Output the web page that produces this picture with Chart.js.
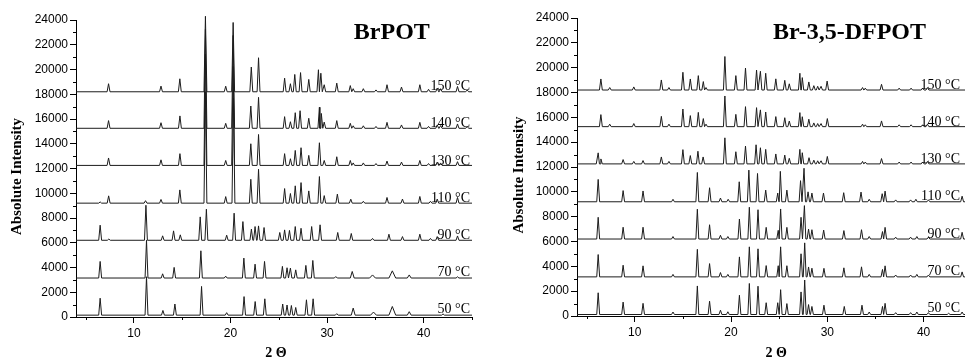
<!DOCTYPE html>
<html>
<head>
<meta charset="utf-8">
<script src="https://cdn.jsdelivr.net/npm/chart.js@4/dist/chart.umd.min.js"></script>
<style>
  body { margin: 0; background: #fff; overflow: hidden; }
  canvas { position: absolute; top: 0; }
  #left { left: 0; }
  #right { left: 482px; }
</style>
</head>
<body>
<canvas id="left" width="482" height="360"></canvas>
<canvas id="right" width="483" height="360"></canvas>
<script>
// temperatures, stacking offsets and the flat background of each pattern
const temps = ["50 °C", "70 °C", "90 °C", "110 °C", "130 °C", "140 °C", "150 °C"];
const offsets = [0, 3000, 6000, 9000, 12000, 15000, 18000];
const yTicks = [0, 2000, 4000, 6000, 8000, 10000, 12000, 14000, 16000, 18000, 20000, 22000, 24000];
const yMinor = [1000, 3000, 5000, 7000, 9000, 11000, 13000, 15000, 17000, 19000, 21000, 23000];
const xTicks = [10, 20, 30, 40];
const xMinor = [5, 15, 25, 35, 45];

// peaks: [2θ, height above background, optional half width]
const brBase = [150, 150, 200, 200, 250, 250, 200];
const br50 = [[6.5,1370],[11.3,3100],[13.0,380],[14.24,900],[17.0,2320],[19.6,200],[21.4,1500],[22.55,1100],[23.55,1320],[25.4,900],[25.85,820],[26.3,780],[26.75,620],[27.86,1240],[28.55,1320],[31.0,120],[32.7,570,0.2],[34.8,250,0.3],[36.75,700,0.35],[38.5,280,0.2],[42.0,100]];
const br70 = [[6.5,1340],[11.3,3050],[12.97,340],[14.16,860],[16.93,2200],[19.5,150],[21.38,1610],[22.54,1120],[23.52,1340],[25.37,940],[25.85,830],[26.2,800],[26.75,660],[27.8,1020],[28.52,1420],[30.9,120],[32.6,530,0.2],[34.7,250,0.3],[36.75,580,0.35],[38.5,250,0.2],[43.5,100]];
const br90 = [[6.5,1220],[7.4,100],[11.24,2830],[12.97,360],[14.1,760],[14.8,440],[16.86,1890],[17.5,2510],[19.6,410],[20.37,2190],[21.28,1510],[22.16,900],[22.54,1110],[22.9,1160],[23.47,1030],[25.1,630],[25.6,840],[26.1,800],[26.7,1110],[27.3,970],[28.4,1110],[29.27,1250],[31.1,630],[32.5,550],[34.7,150],[36.4,490],[37.8,300],[39.6,490],[40.7,150],[41.4,300],[43.5,350]];
const br110 = [[6.5,100],[7.38,590],[11.2,200],[12.8,300],[14.75,1070],[17.4,9000],[19.5,530],[20.3,8500],[22.1,1930],[22.9,2740],[25.6,1180],[26.2,780],[26.7,1400],[27.3,1660],[28.1,990],[29.2,2150],[29.7,610],[31.06,730],[32.45,320],[33.75,150],[36.2,460],[37.8,330],[39.6,540],[40.7,150],[41.4,330],[43.5,460]];
const br130 = [[7.37,600],[12.8,450],[14.76,950],[17.4,9000],[19.5,400],[20.27,8000],[22.1,1750],[22.9,2500],[25.6,950],[26.2,540],[26.7,1210],[27.3,1430],[28.1,810],[29.2,1830],[29.7,400],[31.0,700],[32.4,400],[32.7,200],[33.75,200],[35.06,150],[36.2,350],[37.7,270],[39.6,400],[40.5,150],[41.4,270],[41.75,200],[43.5,300]];
const br140 = [[7.37,620],[12.8,450],[14.76,1000],[17.4,8000],[19.5,400],[20.27,7500],[22.1,1800],[22.9,2500],[25.6,940],[26.2,530],[26.7,1260],[27.2,1420],[28.1,810],[29.2,1700],[29.4,1200],[29.7,500],[31.0,620],[32.4,400],[32.7,200],[33.75,200],[35.06,150],[36.2,480],[37.7,270],[39.6,480],[40.5,150],[41.4,270],[41.75,220],[43.5,350],[44.5,150]];
const br150 = [[7.37,650],[12.8,460],[14.75,1050],[17.4,6100],[19.5,450],[20.27,5600],[22.15,2000],[22.9,2750],[25.6,1100],[26.2,650],[26.65,1400],[27.25,1550],[28.1,1000],[29.1,1780],[29.35,1500],[29.7,570],[31.0,700],[32.4,500],[32.7,250],[33.75,250],[35.06,150],[36.2,570],[37.7,380],[39.6,570],[40.5,200],[41.4,300],[41.75,250],[43.5,430],[44.5,150]];

const dfBase = [120, 150, 200, 200, 250, 250, 200];
const df50 = [[6.2,1750],[8.79,1000],[10.86,900],[13.97,200],[16.5,2300],[17.77,1070],[18.9,350],[19.67,220],[20.87,1550],[21.9,2500],[22.8,2280],[23.65,950],[24.85,950],[25.15,2000],[25.8,880],[27.27,1820],[27.65,2780],[28.05,800],[28.4,650],[29.65,750],[31.76,650],[33.6,750],[34.35,200],[35.73,650],[36.0,900],[37.1,150],[38.65,150],[39.3,200],[40.5,150],[42.6,100],[44.0,200]];
const df70 = [[6.2,1800],[8.79,940],[10.86,890],[13.97,200],[16.5,2220],[17.77,1070],[18.9,350],[19.67,200],[20.87,1610],[21.9,2420],[22.8,2260],[23.65,910],[24.9,900],[25.15,2420],[25.8,900],[27.27,1860],[27.65,2740],[28.05,800],[28.4,700],[29.65,690],[31.72,730],[33.55,810],[34.35,200],[35.73,600],[36.0,890],[37.1,150],[38.65,150],[39.3,200],[40.5,150],[44.0,400]];
const df90 = [[6.2,1750],[8.79,950],[10.86,950],[13.97,200],[16.5,2400],[17.77,1150],[18.9,300],[19.67,200],[20.87,1610],[21.9,2560],[22.8,2360],[23.65,940],[24.9,700],[25.15,2420],[25.8,940],[27.27,1750],[27.62,2690],[28.05,800],[28.4,750],[29.62,720],[31.72,680],[33.55,750],[34.35,200],[35.73,600],[36.0,940],[37.1,150],[38.65,150],[39.3,200],[40.5,150],[44.0,540]];
const df110 = [[6.2,1800],[8.79,900],[10.86,870],[13.97,200],[16.5,2360],[17.77,1130],[18.9,300],[19.7,200],[20.85,1610],[21.85,2550],[22.75,2280],[23.6,940],[24.85,700],[25.12,2450],[25.8,940],[27.22,1700],[27.58,2700],[28.0,800],[28.4,700],[29.6,700],[31.7,730],[33.5,780],[34.35,200],[35.7,650],[36.0,860],[37.1,150],[38.65,150],[39.2,200],[40.5,150],[44.0,450]];
const df130 = [[6.2,890,0.2],[6.48,400],[8.79,350],[9.9,200],[10.86,270],[12.76,560],[13.55,200],[15.0,1150],[15.77,670],[16.56,1020],[17.1,560],[19.36,2100],[20.5,980],[21.5,1440],[22.6,1540],[23.05,1300],[23.6,1170],[24.65,800],[25.58,710],[26.05,450],[27.15,1170],[27.4,900],[28.1,500],[28.6,300],[29.0,250],[29.35,250],[30.0,600],[33.66,200],[33.94,150],[35.63,430],[37.46,150],[38.7,150],[39.9,150],[40.4,200]];
const df140 = [[6.48,970],[7.4,200],[9.9,250],[12.76,830],[13.55,200],[15.0,1420],[15.77,890],[16.6,1150],[17.12,650],[17.4,200],[19.36,2470],[20.5,990],[21.5,1610],[22.65,1530],[23.05,1350],[23.6,1180],[24.65,810],[25.58,720],[26.05,450],[27.15,1130],[27.4,800],[28.08,600],[28.6,300],[29.0,250],[29.35,250],[30.0,650],[33.66,200],[33.94,150],[35.63,460],[37.46,150],[38.7,150],[39.9,150],[40.4,200]];
const df150 = [[6.48,890],[7.4,200],[9.9,250],[12.76,810],[13.55,200],[15.0,1430],[15.77,890],[16.6,1160],[17.12,680],[17.4,200],[19.36,2700],[20.5,1160],[21.5,1770],[22.65,1610],[23.05,1510],[23.6,1350],[24.65,900],[25.58,780],[26.05,500],[27.15,1350],[27.4,1000],[28.08,650],[28.6,350],[29.0,300],[29.35,300],[29.98,720],[33.66,200],[33.94,150],[35.63,460],[37.46,150],[38.7,150],[39.9,150],[40.4,200]];

// turn a peak list into a trace: flat background with a narrow spike per peak
function trace(peaks, offset, base, xMin, xMax) {
  const y0 = offset + base;
  const pts = [{ x: xMin, y: y0 }];
  peaks.forEach(([p, h, w = 0.15]) => {
    pts.push({ x: p - w, y: y0 }, { x: p, y: y0 + h }, { x: p + w, y: y0 });
  });
  pts.push({ x: xMax, y: y0 });
  return pts.sort((a, b) => a.x - b.x);
}

const serif = '"Liberation Serif", "Times New Roman", serif';
const sans = '"Liberation Sans", Arial, sans-serif';

const decor = {
  id: 'decor',
  afterDraw(chart, args, o) {
    const { ctx, chartArea: a, scales: { x, y } } = chart;
    ctx.save();
    ctx.strokeStyle = '#000';
    ctx.lineWidth = 1;
    yMinor.forEach(v => {
      const py = Math.round(y.getPixelForValue(v)) + 0.5;
      ctx.beginPath(); ctx.moveTo(a.left - 3, py); ctx.lineTo(a.left, py); ctx.stroke();
    });
    xMinor.forEach(v => {
      if (v > x.max) return;
      const px = Math.round(x.getPixelForValue(v)) + 0.5;
      ctx.beginPath(); ctx.moveTo(px, a.bottom); ctx.lineTo(px, a.bottom + 3); ctx.stroke();
    });
    ctx.fillStyle = '#000';
    ctx.font = '14px ' + serif;
    ctx.textAlign = 'right';
    ctx.textBaseline = 'alphabetic';
    temps.forEach((t, i) => ctx.fillText(t, a.right - o.inset, y.getPixelForValue(offsets[i]) - 4));
    ctx.font = 'bold 24px ' + serif;
    ctx.textAlign = 'center';
    ctx.fillText(o.title, x.getPixelForValue(o.titleAt), 39);
    ctx.font = 'bold 14px ' + serif;
    ctx.textBaseline = 'middle';
    ctx.fillText('2 \u0398', x.getPixelForValue(24.7), 353);
    ctx.translate(o.yTitleX, (a.top + a.bottom) / 2 + 8);
    ctx.rotate(-Math.PI / 2);
    ctx.font = 'bold 15px ' + serif;
    ctx.fillText('Absolute Intensity', 0, 0);
    ctx.restore();
  }
};

function makeChart(id, p) {
  const datasets = p.series.map((s, i) => ({
    data: trace(s, offsets[i], p.base[i], 4, p.xMax),
    borderColor: '#1c1c1c',
    borderWidth: 1,
    pointRadius: 0,
    tension: 0,
    clip: false
  }));
  new Chart(document.getElementById(id), {
    type: 'line',
    data: { datasets },
    plugins: [decor],
    options: {
      responsive: false,
      animation: false,
      parsing: false,
      layout: { padding: { top: p.padTop, right: p.padRight, left: 0, bottom: 0 } },
      plugins: {
        legend: { display: false },
        tooltip: { enabled: false },
        decor: { title: p.title, titleAt: p.titleAt, inset: p.inset, yTitleX: p.yTitleX }
      },
      scales: {
        x: {
          type: 'linear', min: 4, max: p.xMax,
          afterBuildTicks: s => { s.ticks = xTicks.map(v => ({ value: v })); },
          afterFit: s => { s.height = p.xHeight; },
          grid: { drawOnChartArea: false, tickLength: 6, tickColor: '#000' },
          border: { color: '#000', width: 1 },
          ticks: { color: '#000', font: { family: sans, size: 12 }, padding: 3, maxRotation: 0, autoSkip: false, callback: v => String(v) }
        },
        y: {
          type: 'linear', min: 0, max: 24000,
          afterBuildTicks: s => { s.ticks = yTicks.map(v => ({ value: v })); },
          afterFit: s => { s.width = p.yWidth; },
          grid: { drawOnChartArea: false, tickLength: 6, tickColor: '#000' },
          border: { color: '#000', width: 1 },
          ticks: { color: '#000', font: { family: sans, size: 12 }, padding: 2, autoSkip: false, callback: v => String(v) }
        }
      }
    }
  });
}

makeChart('left', {
  title: 'BrPOT', titleAt: 36.7, series: [br50, br70, br90, br110, br130, br140, br150], base: brBase,
  xMax: 45, yWidth: 76, xHeight: 43, padTop: 20, padRight: 10, inset: 2, yTitleX: 17
});
makeChart('right', {
  title: 'Br-3,5-DFPOT', titleAt: 32.3, series: [df50, df70, df90, df110, df130, df140, df150], base: dfBase,
  xMax: 44.3, yWidth: 95, xHeight: 44, padTop: 18, padRight: 0, inset: 5, yTitleX: 37
});
</script>
</body>
</html>
